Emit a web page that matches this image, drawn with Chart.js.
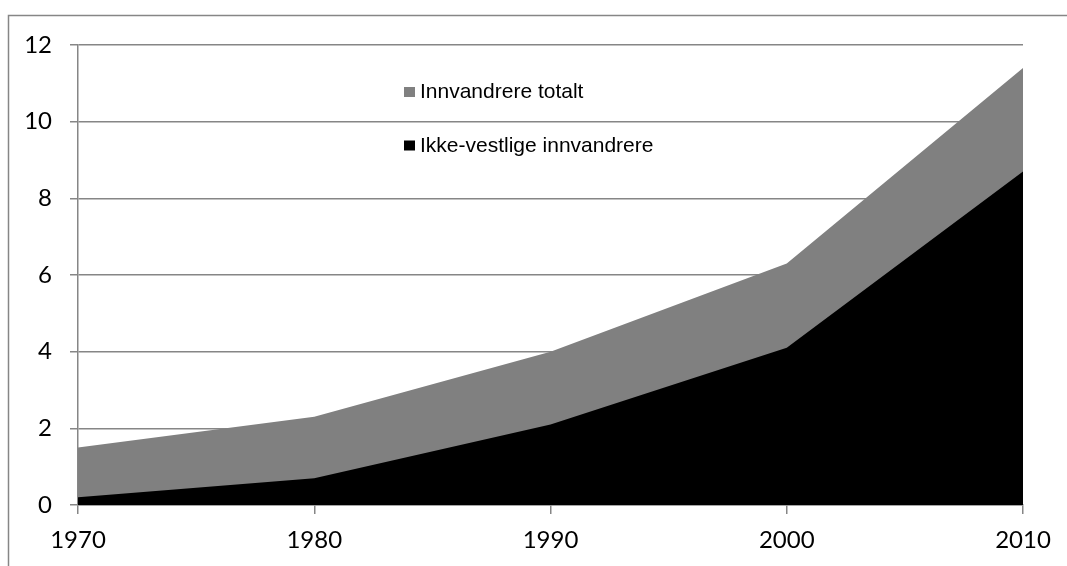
<!DOCTYPE html>
<html>
<head>
<meta charset="utf-8">
<script src="https://cdn.jsdelivr.net/npm/chart.js@4/dist/chart.umd.min.js"></script>
<style>
  html, body { margin: 0; padding: 0; background: #ffffff; }
  #wrap { width: 1067px; height: 566px; position: relative; }
</style>
</head>
<body>
<div id="wrap"><canvas id="c" width="1067" height="566"></canvas></div>
<script>
// Years on the horizontal axis
const years = ['1970', '1980', '1990', '2000', '2010'];
// Share of population, per cent
const totalImmigrants = [1.5, 2.3, 4.0, 6.3, 11.4];
const nonWesternImmigrants = [0.2, 0.7, 2.1, 4.1, 8.7];
// Value axis
const yMin = 0;
const yMax = 12;
const yStep = 2;

const seriesLabels = ['Innvandrere totalt', 'Ikke-vestlige innvandrere'];
const seriesColors = ['#808080', '#000000'];
const axisGray = '#868686';

// Outer frame around the chart (open to the right and bottom)
const framePlugin = {
  id: 'frame',
  beforeDraw(chart) {
    const ctx = chart.ctx;
    ctx.save();
    ctx.fillStyle = '#ffffff';
    ctx.fillRect(0, 0, chart.width, chart.height);
    ctx.strokeStyle = axisGray;
    ctx.lineWidth = 1.5;
    ctx.beginPath();
    ctx.moveTo(8.5, chart.height + 2);
    ctx.lineTo(8.5, 15.5);
    ctx.lineTo(chart.width + 2, 15.5);
    ctx.stroke();
    ctx.restore();
  }
};

// Legend drawn inside the plot area, stacked vertically
const innerLegend = {
  id: 'innerLegend',
  afterDraw(chart) {
    const ctx = chart.ctx;
    const ds = chart.data.datasets;
    const items = [ds[0], ds[1]];
    const baseX = 404;
    const rows = [98, 151.5];
    ctx.save();
    ctx.font = '21px "Liberation Sans", Arial, sans-serif';
    ctx.textBaseline = 'alphabetic';
    ctx.textAlign = 'left';
    items.forEach((d, i) => {
      ctx.fillStyle = d.backgroundColor;
      ctx.fillRect(baseX, rows[i] - 11, 11, 10);
      ctx.fillStyle = '#000000';
      ctx.fillText(d.label, baseX + 16, rows[i]);
    });
    ctx.restore();
  }
};

new Chart(document.getElementById('c'), {
  type: 'line',
  data: {
    labels: years,
    datasets: [
      {
        label: seriesLabels[0],
        data: totalImmigrants,
        backgroundColor: seriesColors[0],
        borderColor: seriesColors[0],
        borderWidth: 0,
        pointRadius: 0,
        fill: 'origin',
        tension: 0,
        order: 1
      },
      {
        label: seriesLabels[1],
        data: nonWesternImmigrants,
        backgroundColor: seriesColors[1],
        borderColor: seriesColors[1],
        borderWidth: 0,
        pointRadius: 0,
        fill: 'origin',
        tension: 0,
        order: 0
      }
    ]
  },
  options: {
    responsive: false,
    animation: false,
    devicePixelRatio: 1,
    layout: { padding: { left: 0, top: 45, right: 44, bottom: 0 } },
    plugins: {
      legend: { display: false },
      tooltip: { enabled: false }
    },
    scales: {
      x: {
        type: 'category',
        offset: false,
        afterFit(scale) { scale.height = 61; },
        grid: {
          drawOnChartArea: false,
          drawTicks: true,
          tickLength: 9,
          color: axisGray,
          lineWidth: 1.5
        },
        border: { display: true, color: axisGray, width: 1.5 },
        ticks: {
          color: '#000000',
          font: { family: 'Lato, "Liberation Sans", sans-serif', size: 24 },
          padding: 12,
          maxRotation: 0,
          autoSkip: false
        }
      },
      y: {
        min: yMin,
        max: yMax,
        afterFit(scale) { scale.width = 78; },
        grid: {
          drawOnChartArea: true,
          drawTicks: true,
          tickLength: 8,
          color: axisGray,
          lineWidth: 1.5
        },
        border: { display: true, color: axisGray, width: 1.5 },
        ticks: {
          stepSize: yStep,
          color: '#000000',
          font: { family: 'Lato, "Liberation Sans", sans-serif', size: 24 },
          padding: 18
        }
      }
    }
  },
  plugins: [framePlugin, innerLegend]
});
</script>
</body>
</html>
